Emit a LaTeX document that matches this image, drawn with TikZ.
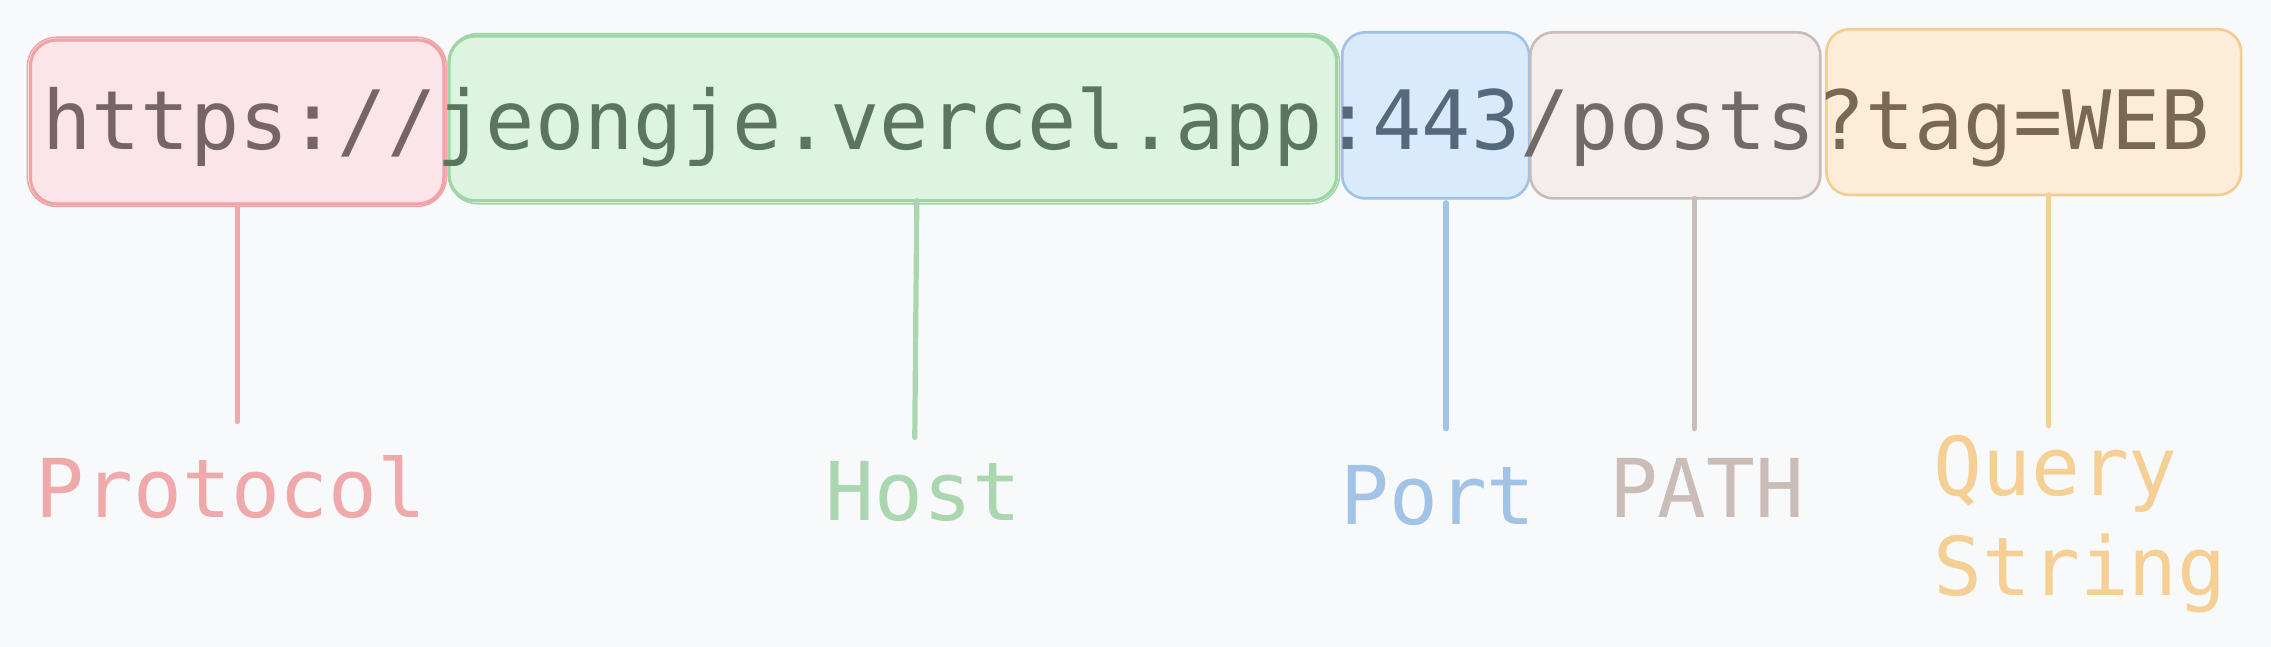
\documentclass[tikz,border=0pt]{standalone}
\usepackage{fontspec}
\newfontfamily\urlmono{DejaVu Sans Mono}
\definecolor{bg}{HTML}{F8F9FB}
\definecolor{pfill}{HTML}{FCE5E8}
\definecolor{pline}{HTML}{F0A2A5}
\definecolor{ptext}{HTML}{766466}
\definecolor{plabel}{HTML}{F0A9AB}
\definecolor{hfill}{HTML}{DDF5E0}
\definecolor{hline}{HTML}{9ED4A6}
\definecolor{htext}{HTML}{5A7660}
\definecolor{hlabel}{HTML}{AAD6B0}
\definecolor{ofill}{HTML}{D8EAFB}
\definecolor{oline}{HTML}{9DC3E8}
\definecolor{otext}{HTML}{55697C}
\definecolor{olabel}{HTML}{A0C3E6}
\definecolor{afill}{HTML}{F3EEEB}
\definecolor{aline}{HTML}{C9BCB7}
\definecolor{atext}{HTML}{716B67}
\definecolor{alabel}{HTML}{CABCB6}
\definecolor{qfill}{HTML}{FCECD8}
\definecolor{qline}{HTML}{F5CC90}
\definecolor{qtext}{HTML}{7A6852}
\definecolor{qlabel}{HTML}{F5CF94}
\begin{document}
\begin{tikzpicture}[x=1pt,y=-1pt,
  partbox/.style={rectangle, rounded corners=16pt, line width=1.8pt, inner sep=0pt},
  sketchbox/.style={rectangle, rounded corners=18pt, line width=2.2pt, inner sep=0pt},
  seg/.style={anchor=base west, inner sep=0pt, font=\urlmono\fontsize{56.5}{70}\selectfont},
  lab/.style={anchor=base west, inner sep=0pt, align=left, font=\urlmono\fontsize{56}{69.3}\selectfont},
  conn/.style={line width=3.6pt, line cap=round},
  sketch/.style={rounded corners=20pt, line width=1pt}]
\fill[bg] (0,0) rectangle (1568,446.7);
\useasboundingbox (0,0) rectangle (1568,446.7);
% boxes
\node[sketchbox, draw=pline, fill=pfill, minimum width=285.5pt, minimum height=113.2pt] (pbox) at (163.75,84.2) {};
\draw[sketch, pline] ([xshift=-1pt,yshift=0.8pt]pbox.north west) rectangle ([xshift=0.6pt,yshift=-0.6pt]pbox.south east);
\node[sketchbox, draw=hline, fill=hfill, minimum width=613pt, minimum height=113.7pt] (hbox) at (616.5,81.75) {};
\draw[sketch, hline] ([xshift=0.8pt,yshift=0.6pt]hbox.north west) rectangle ([xshift=0.8pt,yshift=-1pt]hbox.south east);
\node[partbox, draw=oline, fill=ofill, minimum width=129.1pt, minimum height=114.7pt] (obox) at (991.25,79.65) {};
\node[partbox, draw=aline, fill=afill, minimum width=200.2pt, minimum height=114.7pt] (abox) at (1156.7,79.65) {};
\node[partbox, draw=qline, fill=qfill, minimum width=286.4pt, minimum height=114.4pt] (qbox) at (1404.2,77.4) {};
% url text
\node[seg, text=ptext] (pt) at (29,103) {https://};
\node[seg, text=htext] (ht) at ({29+8*34.02},103) {jeongje.vercel.app};
\node[seg, text=otext] (ot) at ({29+26*34.02},103) {:443};
\node[seg, text=atext] (at) at ({29+30*34.02},103) {/posts};
\node[seg, text=qtext] (qt) at ({29+36*34.02},103) {?tag=WEB};
% connector ends
\coordinate (pend) at (163.75,291);
\coordinate (htop) at (633,138.6);
\coordinate (hend) at (631.6,302);
\coordinate (otop) at (998.4,140);
\coordinate (oend) at (998.4,296);
\coordinate (atop) at (1170,137);
\coordinate (aend) at (1170,296);
\coordinate (qtop) at (1414.5,134.6);
\coordinate (qend) at (1414.5,294);
\draw[conn, plabel] (pbox.south) -- (pend);
\draw[conn, hlabel] (htop) -- (hend);
\draw[conn, olabel] (otop) -- (oend);
\draw[conn, alabel] (atop) -- (aend);
\draw[conn, qlabel] (qtop) -- (qend);
% labels
\node[lab, text=plabel] (pl) at (24.5,357.4) {Protocol};
\node[lab, text=hlabel] (hl) at (570,359.5) {Host};
\node[lab, text=olabel] (ol) at (925.3,361.8) {Port};
\node[lab, text=alabel] (al) at (1110.8,357.4) {PATH};
\node[lab, text=qlabel] (ql) at (1334.8,411.5) {Query\\String};
\end{tikzpicture}
\end{document}
